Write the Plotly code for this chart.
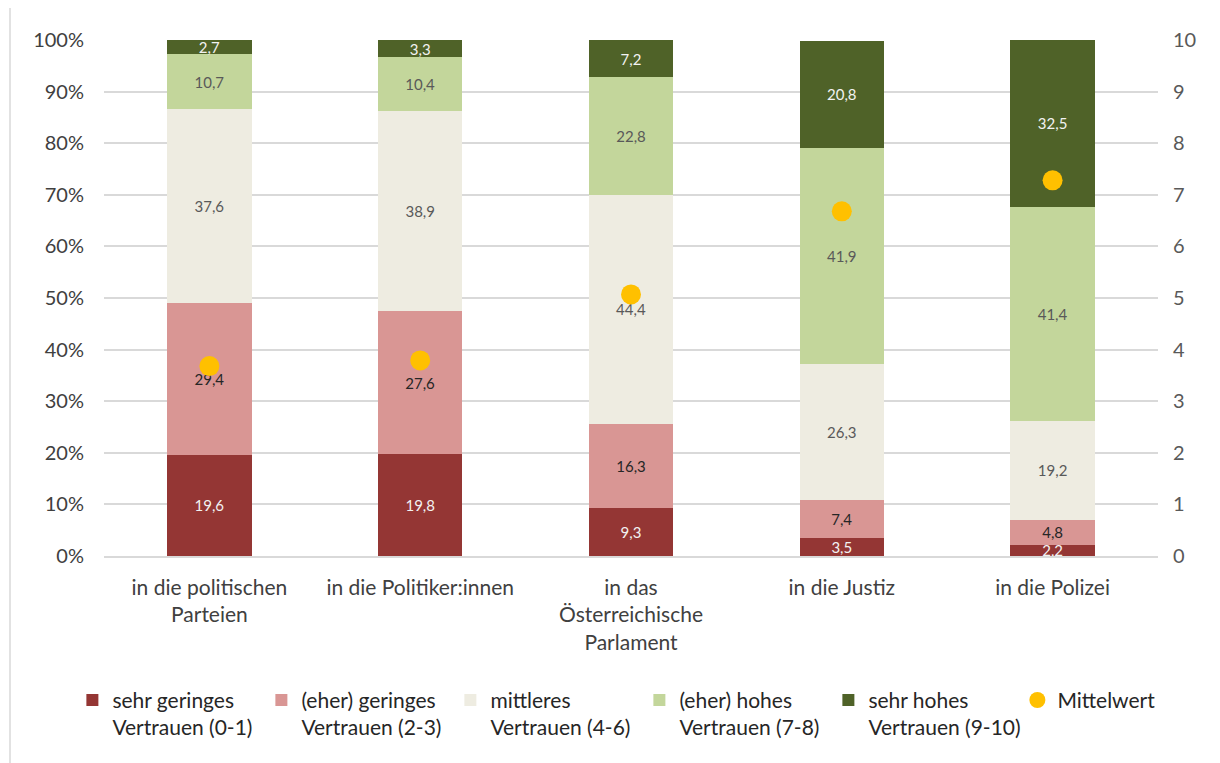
import plotly.graph_objects as go

categories = ["in die politischen<br>Parteien", "in die Politiker:innen",
              "in das<br>Österreichische<br>Parlament", "in die Justiz", "in die Polizei"]

sehr_gering = [19.6, 19.8, 9.3, 3.5, 2.2]
eher_gering = [29.4, 27.6, 16.3, 7.4, 4.8]
mittleres = [37.6, 38.9, 44.4, 26.3, 19.2]
eher_hoch = [10.7, 10.4, 22.8, 41.9, 41.4]
sehr_hoch = [2.7, 3.3, 7.2, 20.8, 32.5]
mittelwert = [3.68, 3.79, 5.07, 6.68, 7.28]

series_names = ["sehr geringes<br>Vertrauen (0-1)", "(eher) geringes<br>Vertrauen (2-3)",
                "mittleres<br>Vertrauen (4-6)", "(eher) hohes<br>Vertrauen (7-8)",
                "sehr hohes<br>Vertrauen (9-10)"]
series_values = [sehr_gering, eher_gering, mittleres, eher_hoch, sehr_hoch]
series_colors = ["#943634", "#D99694", "#EEECE1", "#C3D69B", "#4F6228"]
text_colors = ["#F2F2F2", "#262626", "#595959", "#595959", "#F2F2F2"]

FONT = "Lato"

fig = go.Figure()
for name, vals, col, tcol in zip(series_names, series_values, series_colors, text_colors):
    fig.add_trace(go.Bar(
        x=categories, y=vals, name=name,
        marker=dict(color=col, line=dict(width=0)),
        texttemplate="%{y:.1f}", textposition="inside", insidetextanchor="middle",
        textfont=dict(color=tcol, size=15, family=FONT),
        hoverinfo="skip",
    ))

fig.add_trace(go.Scatter(
    x=categories, y=mittelwert, name="Mittelwert", mode="markers",
    marker=dict(color="#FFC000", size=20, line=dict(width=0)),
    yaxis="y2",
))

fig.update_layout(
    barmode="stack",
    bargap=0.6,
    separators=",.",
    width=1220, height=763,
    paper_bgcolor="white", plot_bgcolor="white",
    font=dict(family=FONT, size=20, color="#404040"),
    margin=dict(l=96, r=70, t=32, b=215, autoexpand=False),
    uniformtext=dict(minsize=15, mode="show"),
    xaxis=dict(showgrid=False, showline=True, linecolor="#D9D9D9", linewidth=1.5,
               ticks="", tickfont=dict(size=21, color="#404040"),
               ticklabelstandoff=12, automargin=False),
    yaxis=dict(range=[0, 100], dtick=10, ticksuffix="%", showgrid=True,
               gridcolor="#D9D9D9", gridwidth=1.5, zeroline=False,
               tickfont=dict(size=20, color="#404040"), ticklabelstandoff=19,
               automargin=False),
    yaxis2=dict(range=[0, 10], dtick=1, overlaying="y", side="right", showgrid=False,
                zeroline=False, tickfont=dict(size=20, color="#595959"),
                ticklabelstandoff=14, automargin=False),
    legend=dict(orientation="h", x=-0.030, y=-0.24, xanchor="left", yanchor="top",
                font=dict(size=21, color="#262626"), entrywidth=144, valign="top",
                traceorder="normal", itemwidth=30),
    showlegend=True,
)

fig.add_shape(type="line", xref="paper", yref="paper",
              x0=(2 - 96) / 1054, x1=(2 - 96) / 1054, y0=-0.45, y1=1.1,
              line=dict(color="#D9D9D9", width=1.5))

fig.write_html("out.html")
